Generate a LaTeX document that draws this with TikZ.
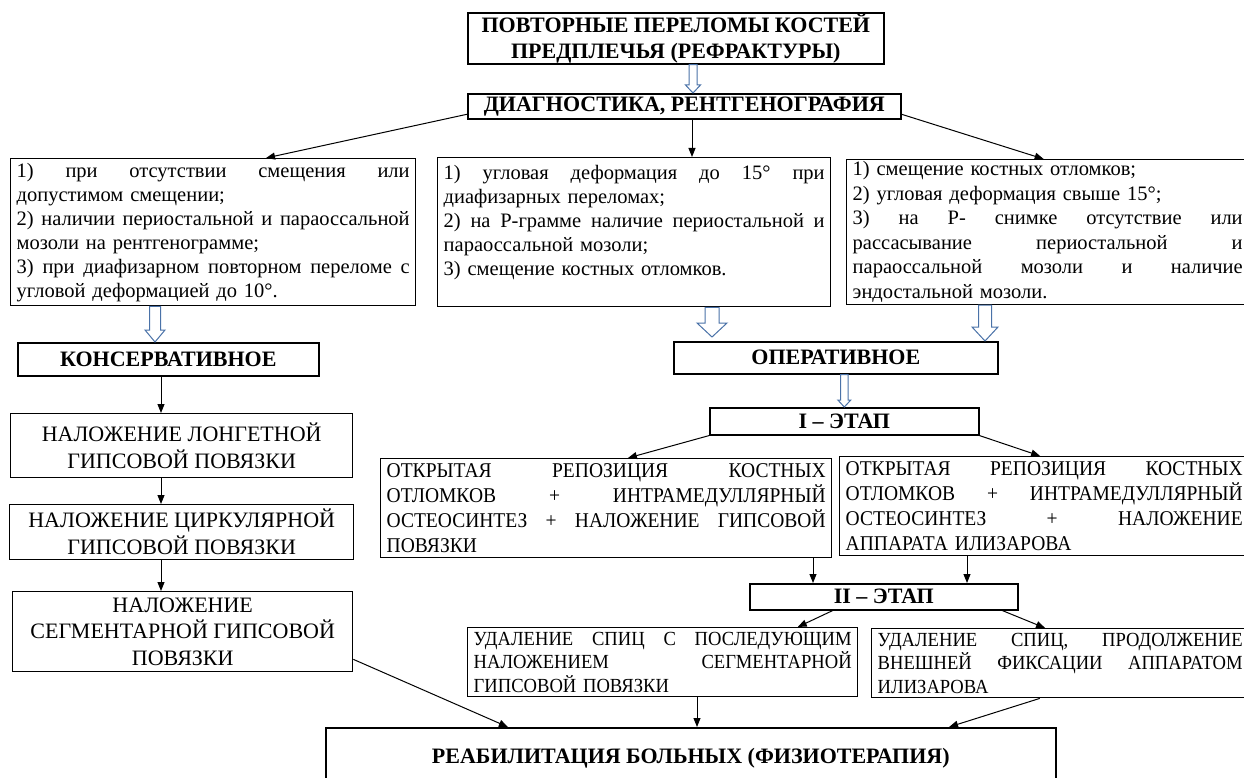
\documentclass[tikz,border=0pt]{standalone}
\usepackage{fontspec}
\setmainfont{Liberation Serif}
\newfontfamily\narrowserif[FakeStretch=0.93]{Liberation Serif}
\usetikzlibrary{arrows.meta, calc}
\definecolor{cblock}{HTML}{4A72A8}
\tikzset{
  every picture/.style={line width=1pt},
  box/.style={draw=black, fill=white, line width=1.6pt, inner sep=0pt, align=center, anchor=north west},
  crit/.style={box, line width=1.4pt, align=left, inner xsep=6pt, font=\fontsize{20.5}{24}\selectfont},
  opbox/.style={box, line width=1.4pt, align=left, inner xsep=6pt, font=\narrowserif\fontsize{21}{25}\selectfont},
  plain/.style={box, line width=1.4pt, font=\fontsize{22}{27}\selectfont},
  head/.style={font=\bfseries\fontsize{22}{26}\selectfont},
  arrow/.style={-{Triangle[length=9pt, width=7pt]}, draw=black, line width=1pt},
  hollow/.style={draw=cblock, fill=white, line width=1pt},
}
\newcommand{\fullline}[1]{\makebox[\hsize][s]{\spaceskip=0pt\xspaceskip=0pt\relax #1}}

\begin{document}
\begin{tikzpicture}[x=1pt, y=-1pt]
  % helper: hollow block arrow pointing down, from #1 to #2
  \newcommand{\hollowarrow}[5]{% from, to, shaft half width, head half width, head length
    \draw[hollow] let \p1=(#1), \p2=(#2) in
      (\x1-#3,\y1) -- (\x1+#3,\y1) -- (\x1+#3,\y2+#5) -- (\x1+#4,\y2+#5)
      -- (\x1,\y2) -- (\x1-#4,\y2+#5) -- (\x1-#3,\y2+#5) -- cycle;}
  \useasboundingbox (0,0) rectangle (1244,778);
  \clip (0,0) rectangle (1244,778);
  % top: diagnosis
  \node[box, head, minimum width=416pt, minimum height=51pt] (title) at (467,12)
    {ПОВТОРНЫЕ ПЕРЕЛОМЫ КОСТЕЙ\\ПРЕДПЛЕЧЬЯ (РЕФРАКТУРЫ)};
  \node[box, head, minimum width=433pt, minimum height=25pt] (diag) at (467,93)
    {ДИАГНОСТИКА, РЕНТГЕНОГРАФИЯ};
  % indications
  \node[crit, text width=393pt, minimum height=147pt] (crit1) at (10,158) {%
    \fullline{1) при отсутствии смещения или}\\
    допустимом смещении;\\
    \fullline{2) наличии периостальной и параоссальной}\\
    мозоли на рентгенограмме;\\
    \fullline{3) при диафизарном повторном переломе с}\\
    угловой деформацией до 10°.};
  \node[crit, text width=381pt, minimum height=149pt] (crit2) at (437,157) {%
    \fullline{1) угловая деформация до 15° при}\\
    диафизарных переломах;\\
    \fullline{2) на Р-грамме наличие периостальной и}\\
    параоссальной мозоли;\\
    3) смещение костных отломков.\\
    \mbox{}};
  \node[crit, font=\fontsize{20.5}{24.5}\selectfont, inner ysep=2pt, text width=390pt, minimum height=144pt] (crit3) at (846,159) {%
    1) смещение костных отломков;\\
    2) угловая деформация свыше 15°;\\
    \fullline{3) на Р- снимке отсутствие или}\\
    \fullline{рассасывание периостальной и}\\
    \fullline{параоссальной мозоли и наличие}\\
    эндостальной мозоли.};
  % conservative branch
  \node[box, head, minimum width=301pt, minimum height=33pt] (kons) at (17,342) {КОНСЕРВАТИВНОЕ};
  \node[plain, minimum width=342pt, minimum height=64pt] (longet) at (10,413) {НАЛОЖЕНИЕ ЛОНГЕТНОЙ\\ГИПСОВОЙ ПОВЯЗКИ};
  \node[plain, minimum width=344pt, minimum height=55pt] (circ) at (9,504) {НАЛОЖЕНИЕ ЦИРКУЛЯРНОЙ\\ГИПСОВОЙ ПОВЯЗКИ};
  \node[plain, font=\fontsize{22}{26.5}\selectfont, minimum width=340pt, minimum height=80pt] (segm) at (12,591)
    {НАЛОЖЕНИЕ\\СЕГМЕНТАРНОЙ ГИПСОВОЙ\\ПОВЯЗКИ};
  % operative branch
  \node[box, head, minimum width=324pt, minimum height=32pt] (oper) at (673,341) {ОПЕРАТИВНОЕ};
  \node[box, head, minimum width=269pt, minimum height=27pt] (stage1) at (709,407) {I – ЭТАП};
  \node[opbox, text width=439pt, minimum height=99pt] (opcast) at (380,458) {%
    \fullline{ОТКРЫТАЯ РЕПОЗИЦИЯ КОСТНЫХ}\\
    \fullline{ОТЛОМКОВ + ИНТРАМЕДУЛЛЯРНЫЙ}\\
    \fullline{ОСТЕОСИНТЕЗ + НАЛОЖЕНИЕ ГИПСОВОЙ}\\
    ПОВЯЗКИ};
  \node[opbox, text width=397pt, minimum height=99pt] (opiliz) at (839,456) {%
    \fullline{ОТКРЫТАЯ РЕПОЗИЦИЯ КОСТНЫХ}\\
    \fullline{ОТЛОМКОВ + ИНТРАМЕДУЛЛЯРНЫЙ}\\
    \fullline{ОСТЕОСИНТЕЗ + НАЛОЖЕНИЕ}\\
    АППАРАТА ИЛИЗАРОВА};
  \node[box, head, minimum width=268pt, minimum height=26pt] (stage2) at (749,583) {II – ЭТАП};
  \node[opbox, font=\narrowserif\fontsize{20}{23.5}\selectfont, text width=378pt, minimum height=69pt] (remov1) at (467,627) {%
    \fullline{УДАЛЕНИЕ СПИЦ С ПОСЛЕДУЮЩИМ}\\
    \fullline{НАЛОЖЕНИЕМ СЕГМЕНТАРНОЙ}\\
    ГИПСОВОЙ ПОВЯЗКИ};
  \node[opbox, font=\narrowserif\fontsize{20}{23.5}\selectfont, text width=365pt, minimum height=69pt] (remov2) at (871,628) {%
    \fullline{УДАЛЕНИЕ СПИЦ, ПРОДОЛЖЕНИЕ}\\
    \fullline{ВНЕШНЕЙ ФИКСАЦИИ АППАРАТОМ}\\
    ИЛИЗАРОВА};
  \node[box, head, minimum width=730pt, minimum height=60pt] (rehab) at (325,727)
    {РЕАБИЛИТАЦИЯ БОЛЬНЫХ (ФИЗИОТЕРАПИЯ)};
  % x positions of the vertical connectors
  \coordinate (hx0) at (693,0);
  \coordinate (hx1) at (155,0);
  \coordinate (hx2) at (712,0);
  \coordinate (hx3) at (985,0);
  \coordinate (vx1) at (161,0);
  \coordinate (vx2) at (692,0);
  \coordinate (vx3) at (813,0);
  \coordinate (vx4) at (967,0);
  \coordinate (vx5) at (697,0);
  % hollow arrows
  \hollowarrow{hx0 |- title.south}{hx0 |- diag.north}{4pt}{7.5pt}{8pt}
  \hollowarrow{hx1 |- crit1.south}{hx1 |- kons.north}{5.5pt}{10pt}{12pt}
  \hollowarrow{hx2 |- crit2.south}{$(hx2 |- oper.north)+(0,-4)$}{7pt}{15pt}{14pt}
  \hollowarrow{hx3 |- crit3.south}{hx3 |- oper.north}{6.5pt}{13pt}{14pt}
  \hollowarrow{stage1.north |- oper.south}{stage1.north}{3.7pt}{6.5pt}{7pt}
  % connectors
  \draw[arrow] ($(diag.south west)!0.2!(diag.north west)$) -- ($(crit1.north west)!0.63!(crit1.north east)$);
  \draw[arrow] (vx2 |- diag.south) -- (vx2 |- crit2.north);
  \draw[arrow] ($(diag.south east)!0.2!(diag.north east)$) -- ($(crit3.north west)!0.49!(crit3.north east)$);
  \draw[arrow] (vx1 |- kons.south) -- (vx1 |- longet.north);
  \draw[arrow] (vx1 |- longet.south) -- (vx1 |- circ.north);
  \draw[arrow] (vx1 |- circ.south) -- (vx1 |- segm.north);
  \draw[arrow] (stage1.south west) -- ($(opcast.north west)!0.548!(opcast.north east)$);
  \draw[arrow] (stage1.south east) -- ($(opiliz.north west)!0.49!(opiliz.north east)$);
  \draw[arrow] (vx3 |- opcast.south) -- (vx3 |- stage2.north);
  \draw[arrow] (vx4 |- opiliz.south) -- (vx4 |- stage2.north);
  \draw[arrow] ($(stage2.south west)!0.31!(stage2.south east)$) -- ($(remov1.north west)!0.845!(remov1.north east)$);
  \draw[arrow] ($(stage2.south west)!0.94!(stage2.south east)$) -- ($(remov2.north west)!0.46!(remov2.north east)$);
  \draw[arrow] ($(segm.north east)!0.84!(segm.south east)$) -- ($(rehab.north west)!0.25!(rehab.north east)$);
  \draw[arrow] (vx5 |- remov1.south) -- (vx5 |- rehab.north);
  \draw[arrow] ($(remov2.south west)!0.446!(remov2.south east)$) -- ($(rehab.north west)!0.853!(rehab.north east)$);
\end{tikzpicture}
\end{document}
